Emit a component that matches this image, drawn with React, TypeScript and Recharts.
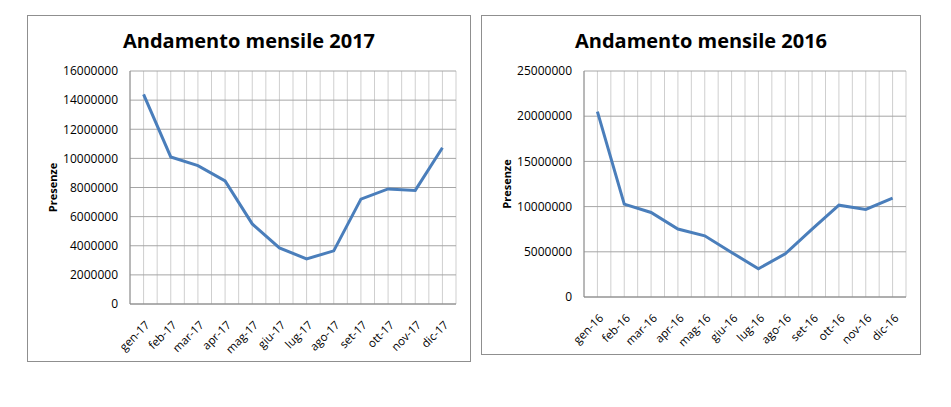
import React from "react";
import {
  LineChart,
  Line,
  XAxis,
  YAxis,
  CartesianGrid,
} from "recharts";

const months2017 = ["gen-17", "feb-17", "mar-17", "apr-17", "mag-17", "giu-17", "lug-17", "ago-17", "set-17", "ott-17", "nov-17", "dic-17"];
const presenze2017 = [14400000, 10100000, 9500000, 8450000, 5500000, 3850000, 3100000, 3650000, 7200000, 7900000, 7800000, 10730000];
const yTicks2017 = [0, 2000000, 4000000, 6000000, 8000000, 10000000, 12000000, 14000000, 16000000];

const months2016 = ["gen-16", "feb-16", "mar-16", "apr-16", "mag-16", "giu-16", "lug-16", "ago-16", "set-16", "ott-16", "nov-16", "dic-16"];
const presenze2016 = [20500000, 10270000, 9350000, 7520000, 6770000, 4930000, 3130000, 4780000, 7510000, 10160000, 9680000, 10940000];
const yTicks2016 = [0, 5000000, 10000000, 15000000, 20000000, 25000000];

const FONT = "'Open Sans', 'Noto Sans', sans-serif";
const gridTicks = Array.from({ length: 25 }, (_, i) => i / 2);
const catTicks = Array.from({ length: 12 }, (_, i) => i + 0.5);

type PanelProps = {
  title: string;
  months: string[];
  values: number[];
  yTicks: number[];
  left: number;
  top: number;
  width: number;
  height: number;
};

function Panel({ title, months, values, yTicks, left, top, width, height }: PanelProps) {
  const data = months.map((m, i) => ({ x: i + 0.5, name: m, v: values[i] }));
  const yMax = yTicks[yTicks.length - 1];
  return (
    <div
      style={{
        position: "absolute",
        left,
        top,
        width,
        height,
        border: "1px solid #8f8f8f",
        boxSizing: "border-box",
        background: "#fff",
      }}
    >
      <div
        style={{
          position: "absolute",
          left: 0,
          top: 11,
          width: width - 2,
          textAlign: "center",
          fontFamily: FONT,
          fontWeight: 700,
          fontSize: 20,
          color: "#000",
          lineHeight: "28px",
        }}
      >
        {title}
      </div>
      <div style={{ position: "absolute", left: -1, top: -1 }}>
        <LineChart
          width={width}
          height={height}
          data={data}
          margin={{ top: 56, right: 15, bottom: 8, left: 43 }}
        >
          <XAxis
            xAxisId="grid"
            type="number"
            dataKey="x"
            domain={[0, 12]}
            ticks={gridTicks}
            interval={0}
            height={0}
            hide
          />
          <CartesianGrid
            xAxisId="grid"
            vertical={true}
            horizontal={false}
            stroke="#cfcfcf"
            strokeWidth={1}
          />
          <CartesianGrid
            xAxisId="grid"
            vertical={false}
            horizontal={true}
            stroke="#a6a6a6"
            strokeWidth={1}
          />
          <XAxis
            xAxisId="main"
            type="number"
            dataKey="x"
            domain={[0, 12]}
            ticks={catTicks}
            interval={0}
            height={50}
            tickLine={false}
            tickSize={6}
            tickMargin={10}
            axisLine={{ stroke: "#8a8a8a", strokeWidth: 1 }}
            tickFormatter={(v: number) => months[Math.floor(v)]}
            tick={{ angle: -45, textAnchor: "end", fontSize: 11.5, fill: "#000", fontFamily: FONT, dx: 1 }}
          />
          <YAxis
            type="number"
            domain={[0, yMax]}
            ticks={yTicks}
            interval={0}
            width={60}
            tickLine={false}
            tickSize={0}
            tickMargin={12}
            axisLine={{ stroke: "#8a8a8a", strokeWidth: 1 }}
            tick={{ fontSize: 12, fill: "#000", fontFamily: FONT }}
            label={{
              content: (props: any) => {
                const vb = props.viewBox || {};
                const cx = (vb.x ?? 0) - 18;
                const cy = (vb.y ?? 0) + (vb.height ?? 0) / 2;
                return (
                  <text
                    x={cx}
                    y={cy}
                    transform={`rotate(-90, ${cx}, ${cy})`}
                    textAnchor="middle"
                    dominantBaseline="central"
                    fontFamily={FONT}
                    fontWeight={700}
                    fontSize={11}
                    fill="#000"
                  >
                    Presenze
                  </text>
                );
              },
            }}
          />
          <Line
            xAxisId="main"
            type="linear"
            dataKey="v"
            stroke="#4a7ebb"
            strokeWidth={3}
            dot={false}
            activeDot={false}
            isAnimationActive={false}
          />
        </LineChart>
      </div>
    </div>
  );
}

export default function App() {
  return (
    <div style={{ position: "absolute", left: 0, top: 0, width: 951, height: 407, background: "#fff" }}>
      <Panel
        title="Andamento mensile 2017"
        months={months2017}
        values={presenze2017}
        yTicks={yTicks2017}
        left={27}
        top={15}
        width={444}
        height={347}
      />
      <Panel
        title="Andamento mensile 2016"
        months={months2016}
        values={presenze2016}
        yTicks={yTicks2016}
        left={481}
        top={15}
        width={440}
        height={340}
      />
    </div>
  );
}
